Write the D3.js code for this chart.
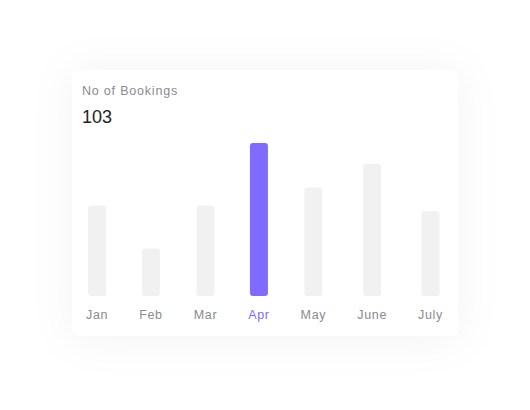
<!DOCTYPE html>
<html>
<head>
<meta charset="utf-8">
<style>
  body { margin: 0; background: #fff; }
  text { font-family: "Liberation Sans", Arial, sans-serif; }
</style>
</head>
<body>
<svg width="530" height="410"></svg>
<script src="https://d3js.org/d3.v7.min.js"></script>
<script>

    var months = ["Jan", "Feb", "Mar", "Apr", "May", "June", "July"];
    var bookings = [61, 32, 61, 103, 73, 89, 57];
    var highlight = "Apr";
    var title = "No of Bookings";

    var data = months.map(function(m, i) { return {month: m, value: bookings[i]}; });

    var svg = d3.select("svg"),
        card = {x: 72, y: 70, w: 386, h: 266},
        barW = 18,
        left = 86, right = 443,
        baseY = 296, topY = 143;

    var defs = svg.append("defs");
    var f = defs.append("filter").attr("id", "shadow")
        .attr("x", "-40%").attr("y", "-40%").attr("width", "180%").attr("height", "180%");
    f.append("feDropShadow")
        .attr("dx", 0).attr("dy", 2)
        .attr("stdDeviation", 22)
        .attr("flood-color", "#000")
        .attr("flood-opacity", 0.05);

    svg.append("rect")
        .attr("x", card.x).attr("y", card.y)
        .attr("width", card.w).attr("height", card.h)
        .attr("rx", 7)
        .attr("fill", "#fff")
        .attr("filter", "url(#shadow)");

    svg.append("text")
        .attr("x", 82).attr("y", 95)
        .attr("fill", "#8a8a92")
        .style("font-size", "12.5px")
        .style("letter-spacing", "0.8px")
        .text(title);

    svg.append("text")
        .attr("x", 82).attr("y", 123)
        .attr("fill", "#222")
        .style("font-size", "18px")
        .text(data.find(function(d) { return d.month === highlight; }).value);

    // labels first, so their widths drive a flex-like spacing
    var labels = svg.append("g").selectAll("text")
        .data(data)
        .enter().append("text")
        .attr("y", 319)
        .attr("text-anchor", "middle")
        .attr("fill", function(d) { return d.month === highlight ? "#7f6bff" : "#8a8a92"; })
        .style("font-size", "12.5px")
        .style("letter-spacing", "0.7px")
        .text(function(d) { return d.month; });

    var widths = [];
    labels.each(function() { widths.push(Math.max(barW, this.getComputedTextLength())); });
    var gap = (right - left - d3.sum(widths)) / (widths.length - 1);
    var centers = [], pos = left;
    widths.forEach(function(w) { centers.push(pos + w / 2); pos += w + gap; });

    var x = d3.scaleOrdinal().domain(months).range(centers);
    var y = d3.scaleLinear()
        .domain([0, d3.max(bookings)])
        .range([baseY, topY]);

    labels.attr("x", function(d) { return x(d.month); });

    svg.append("g").selectAll("rect")
        .data(data)
        .enter().append("rect")
        .attr("x", function(d) { return x(d.month) - barW / 2; })
        .attr("y", function(d) { return y(d.value); })
        .attr("width", barW)
        .attr("height", function(d) { return y(0) - y(d.value); })
        .attr("rx", 3)
        .attr("fill", function(d) { return d.month === highlight ? "#7f6bff" : "#f1f1f1"; });

</script>
</body>
</html>
